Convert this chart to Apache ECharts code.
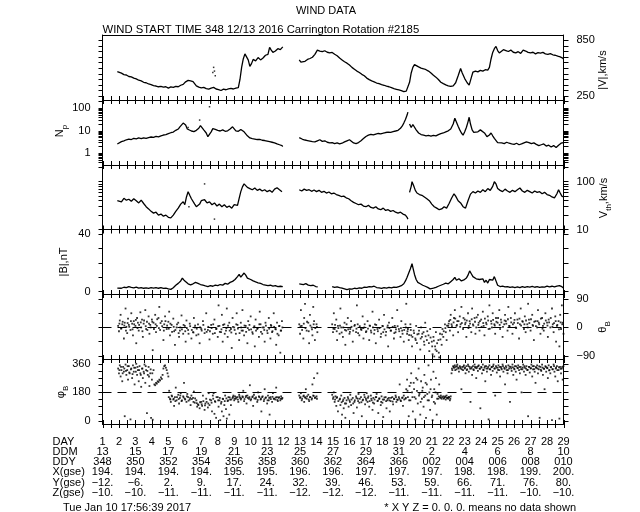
<!DOCTYPE html>
<html><head><meta charset="utf-8">
<script src="https://cdn.jsdelivr.net/npm/echarts@6/dist/echarts.min.js"></script>
<style>html,body{margin:0;padding:0;background:#fff}#c{width:640px;height:512px}</style>
</head><body><div id="c"></div>
<script>
// ---------- data (day of rotation, value) ----------
const V_DATA = [[1.9,515],[2.0,505],[2.15,498],[2.3,482],[2.45,478],[2.6,462],[2.75,458],[2.9,445],[3.05,436],[3.2,422],[3.35,415],[3.5,400],[3.65,395],[3.8,382],[3.95,375],[4.1,364],[4.25,360],[4.4,352],[4.55,356],[4.7,348],[4.85,352],[5.0,338],[5.15,350],[5.3,346],[5.45,356],[5.6,352],[5.75,368],[5.9,378],[6.05,405],[6.2,420],[6.35,416],[6.5,408],[6.6,395],[6.7,362],[6.85,348],[7.0,340],[7.15,345],[7.3,332],[7.45,326],[7.6,338],[7.75,345],[7.9,328],[8.05,322],[8.2,312],[8.35,326],[8.5,320],[8.65,330],[8.8,334],[8.95,328],[9.1,338],[9.25,342],[9.35,430],[9.45,560],[9.55,650],[9.65,705],[9.75,690],[9.85,640],[9.95,570],[10.05,600],[10.15,645],[10.3,630],[10.45,665],[10.6,640],[10.75,660],[10.9,690],[11.05,700],[11.15,775],[11.25,745],[11.35,720],[11.5,735],[11.65,760],[11.8,750],[11.95,780],[12.4,'-'],
[12.95,640],[13.05,615],[13.15,600],[13.3,625],[13.45,645],[13.6,655],[13.75,668],[13.9,700],[14.05,745],[14.2,735],[14.35,728],[14.5,738],[14.65,722],[14.8,715],[14.95,720],[15.1,700],[15.25,685],[15.4,660],[15.55,640],[15.7,620],[15.85,605],[16.0,585],[16.15,560],[16.3,540],[16.45,520],[16.6,505],[16.75,485],[16.9,470],[17.05,445],[17.2,428],[17.35,415],[17.5,405],[17.65,392],[17.8,385],[17.95,375],[18.1,368],[18.25,358],[18.4,352],[18.55,342],[18.7,332],[18.85,325],[19.0,318],[19.15,310],[19.3,300],[19.45,305],[19.55,312],[19.65,400],[19.75,500],[19.85,560],[19.95,590],[20.05,575],[20.2,565],[20.35,552],[20.5,545],[20.65,535],[20.8,520],[20.95,500],[21.1,475],[21.25,455],[21.4,430],[21.55,400],[21.7,385],[21.85,372],[22.0,362],[22.15,355],[22.3,362],[22.45,395],[22.6,470],[22.75,548],[22.85,500],[23.0,440],[23.15,395],[23.27,370],[23.4,450],[23.5,510],[23.65,520],[23.8,512],[23.95,528],[24.1,520],[24.25,535],[24.4,530],[24.5,560],[24.6,650],[24.7,720],[24.8,760],[24.9,785],[25.0,740],[25.1,715],[25.2,735],[25.35,750],[25.5,740],[25.65,730],[25.8,745],[25.95,722],[26.1,715],[26.25,728],[26.4,710],[26.55,745],[26.7,735],[26.85,720],[27.0,715],[27.15,722],[27.3,705],[27.45,718],[27.6,712],[27.75,720],[27.9,705],[28.05,700],[28.2,708],[28.35,695],[28.5,690],[28.65,680],[28.8,672],[28.95,660],[29.0,650]];
const V_DOTS = [[7.7,505],[7.75,560],[7.8,520],[7.85,470]];

const NP_DATA = [[1.9,2.6],[2.0,2.9],[2.15,3.3],[2.3,3.6],[2.45,4.0],[2.6,4.3],[2.75,4.1],[2.9,4.6],[3.05,4.4],[3.2,4.8],[3.35,4.5],[3.5,4.9],[3.65,4.6],[3.8,5.0],[3.95,5.3],[4.1,5.1],[4.25,5.6],[4.4,5.4],[4.55,6.0],[4.7,6.5],[4.85,6.8],[5.0,7.5],[5.15,8.2],[5.3,8.8],[5.45,10.5],[5.6,12],[5.7,15],[5.8,18],[5.9,22],[5.95,26],[6.05,18],[6.15,12],[6.25,10.5],[6.4,9.8],[6.55,9.2],[6.7,10.5],[6.85,13],[6.95,17],[7.05,14],[7.15,11],[7.3,8],[7.4,5.5],[7.5,5.0],[7.6,9],[7.7,12.5],[7.85,11.5],[8.0,10.5],[8.15,9.8],[8.3,11],[8.45,9.5],[8.6,10],[8.75,12],[8.9,15],[9.0,13],[9.1,10],[9.25,9.5],[9.4,11.5],[9.5,12],[9.6,9],[9.7,7.5],[9.8,6],[9.95,4.8],[10.1,4.5],[10.25,4.3],[10.4,4.1],[10.55,4.2],[10.7,3.8],[10.85,3.7],[11.0,3.5],[11.15,3.3],[11.3,3.1],[11.45,2.9],[11.6,2.6],[11.75,2.4],[11.9,2.2],[11.95,2.0],[12.4,'-'],
[12.95,5.0],[13.05,4.7],[13.15,4.2],[13.3,3.9],[13.45,3.7],[13.6,3.5],[13.75,3.3],[13.9,3.2],[14.05,3.6],[14.2,4.0],[14.35,3.4],[14.5,3.6],[14.65,3.1],[14.8,2.9],[14.95,3.0],[15.1,2.7],[15.25,2.9],[15.4,2.6],[15.55,2.8],[15.7,3.2],[15.85,3.6],[16.0,4.0],[16.1,3.3],[16.25,2.9],[16.4,2.7],[16.55,3.0],[16.7,3.6],[16.85,4.5],[17.0,5.6],[17.15,6.4],[17.3,7.0],[17.45,6.6],[17.6,7.2],[17.75,7.6],[17.9,7.3],[18.05,7.8],[18.2,8.4],[18.35,8.8],[18.5,8.5],[18.65,9.2],[18.8,9.8],[18.95,10.5],[19.1,13],[19.2,16],[19.3,22],[19.4,32],[19.5,50],[19.55,68],[19.6,'-'],[19.65,20],[19.75,14],[19.85,19],[19.95,16],[20.05,11],[20.2,8],[20.35,6.8],[20.5,6.4],[20.65,6.0],[20.8,6.2],[20.95,5.8],[21.1,6.3],[21.25,6.0],[21.4,6.8],[21.55,7.5],[21.7,8.0],[21.85,9.0],[22.0,10],[22.15,12],[22.3,20],[22.4,36],[22.5,24],[22.6,16],[22.7,11],[22.8,8],[22.9,6.4],[23.0,9],[23.1,14],[23.2,25],[23.27,40],[23.35,20],[23.45,11],[23.55,8.5],[23.65,7.5],[23.8,9],[23.95,11],[24.05,9.5],[24.2,8],[24.35,5.5],[24.5,6.5],[24.6,8],[24.7,6],[24.8,4.6],[24.9,3.8],[25.0,3.0],[25.1,2.6],[25.25,2.9],[25.4,2.7],[25.55,3.1],[25.7,2.8],[25.85,2.6],[26.0,2.5],[26.15,2.8],[26.3,2.4],[26.45,2.6],[26.6,2.9],[26.75,3.2],[26.9,3.0],[27.05,2.7],[27.2,2.9],[27.35,2.5],[27.5,2.2],[27.65,2.4],[27.8,2.6],[27.95,2.1],[28.1,2.3],[28.25,1.9],[28.4,2.2],[28.55,1.8],[28.7,2.3],[28.85,2.8],[29.0,3.0]];
const NP_DOTS = [[6.2,14],[6.9,30],[7.5,117]];

const VTH_DATA = [[1.9,40],[2.0,44],[2.15,38],[2.3,45],[2.45,41],[2.6,43],[2.75,39],[2.9,44],[3.05,40],[3.2,36],[3.35,41],[3.5,35],[3.65,30],[3.8,27],[3.95,24],[4.1,22],[4.25,23],[4.4,20],[4.55,21],[4.7,19],[4.85,20],[5.0,18],[5.15,17.5],[5.3,20],[5.45,24],[5.6,28],[5.75,34],[5.9,38],[6.0,33],[6.1,48],[6.2,62],[6.3,52],[6.4,44],[6.5,40],[6.6,34],[6.7,30],[6.8,28],[6.9,34],[7.0,40],[7.1,37],[7.2,42],[7.35,36],[7.5,38],[7.65,33],[7.8,36],[7.95,31],[8.1,34],[8.25,30],[8.4,33],[8.55,29],[8.7,31],[8.85,28],[9.0,33],[9.1,36],[9.2,32],[9.3,45],[9.4,62],[9.5,78],[9.6,90],[9.7,85],[9.8,76],[9.95,72],[10.1,68],[10.25,74],[10.4,66],[10.55,70],[10.7,64],[10.85,68],[11.0,62],[11.15,66],[11.3,60],[11.45,70],[11.6,75],[11.75,68],[11.9,62],[12.4,'-'],
[12.95,68],[13.1,64],[13.25,70],[13.4,66],[13.55,68],[13.7,63],[13.85,67],[14.0,62],[14.15,66],[14.3,60],[14.45,63],[14.6,58],[14.75,61],[14.9,56],[15.05,58],[15.2,54],[15.35,52],[15.5,49],[15.65,50],[15.8,46],[15.95,44],[16.1,40],[16.25,37],[16.4,35],[16.55,33],[16.7,34],[16.85,31],[17.0,30],[17.15,32],[17.3,29],[17.45,28],[17.6,30],[17.75,27],[17.9,26],[18.05,28],[18.2,25],[18.35,26],[18.5,24],[18.65,25],[18.8,23],[18.95,22],[19.1,23],[19.25,21],[19.4,20],[19.5,18],[19.55,16.5],[19.6,'-'],[19.65,60],[19.75,80],[19.8,100],[19.9,82],[20.0,66],[20.1,58],[20.25,54],[20.4,52],[20.55,48],[20.7,44],[20.85,40],[21.0,34],[21.15,30],[21.3,28],[21.45,26],[21.6,27],[21.75,30],[21.9,28],[22.05,35],[22.2,45],[22.35,56],[22.45,50],[22.6,40],[22.75,36],[22.9,30],[23.05,28],[23.2,40],[23.35,55],[23.5,62],[23.65,58],[23.8,64],[23.95,60],[24.1,68],[24.25,62],[24.4,72],[24.55,66],[24.7,80],[24.8,100],[24.9,90],[25.0,72],[25.15,66],[25.3,62],[25.45,70],[25.6,64],[25.75,60],[25.9,66],[26.05,62],[26.2,68],[26.35,74],[26.5,64],[26.65,60],[26.8,66],[26.95,62],[27.1,58],[27.25,64],[27.4,60],[27.55,62],[27.7,56],[27.85,60],[28.0,54],[28.15,52],[28.3,48],[28.45,46],[28.6,56],[28.7,68],[28.8,58],[28.9,50],[29.0,48]];
const VTH_DOTS = [[7.2,90],[7.8,16.5],[6.25,30]];

const B_DATA = [[1.9,2.5],[2.0,2.8],[2.15,2.4],[2.3,3.1],[2.45,2.8],[2.6,3.5],[2.75,3.0],[2.9,2.6],[3.05,3.2],[3.2,2.5],[3.35,2.9],[3.5,2.4],[3.65,2.7],[3.8,2.3],[3.95,2.8],[4.1,2.5],[4.25,2.9],[4.4,2.4],[4.55,2.8],[4.7,2.3],[4.85,2.5],[5.0,2.0],[5.15,1.6],[5.3,2.8],[5.45,4.5],[5.6,5.8],[5.75,7.5],[5.85,9.5],[5.95,8.0],[6.05,6.8],[6.2,5.5],[6.35,4.8],[6.5,5.5],[6.65,6.5],[6.8,5.8],[6.95,5.0],[7.1,4.5],[7.25,4.0],[7.4,3.6],[7.55,4.2],[7.7,3.8],[7.85,4.6],[8.0,4.2],[8.15,5.0],[8.3,4.6],[8.45,5.8],[8.6,5.2],[8.75,6.5],[8.9,7.2],[9.05,8.5],[9.2,10.5],[9.3,12],[9.4,10.2],[9.5,11.5],[9.6,13],[9.7,11.5],[9.8,9.5],[9.9,10.8],[10.0,8.5],[10.15,7.5],[10.3,6.8],[10.45,6.2],[10.6,5.8],[10.75,5.0],[10.9,4.6],[11.05,4.2],[11.2,4.5],[11.35,3.9],[11.5,4.2],[11.65,3.6],[11.8,3.8],[11.95,3.5],[12.4,'-'],
[12.95,5.5],[13.05,6.2],[13.2,5.0],[13.35,5.6],[13.5,4.6],[13.65,4.2],[13.8,4.5],[13.95,3.6],[14.07,3.4],[14.5,'-'],
[14.95,3.5],[15.1,3.0],[15.25,3.4],[15.4,2.8],[15.55,2.5],[15.7,2.0],[15.85,1.5],[16.0,2.0],[16.15,1.8],[16.3,2.4],[16.45,2.1],[16.6,2.6],[16.75,2.4],[16.9,3.2],[17.05,3.0],[17.2,3.6],[17.35,3.3],[17.5,3.8],[17.65,2.9],[17.8,2.6],[17.95,2.3],[18.1,2.8],[18.25,2.5],[18.4,3.0],[18.55,2.6],[18.7,3.2],[18.85,3.0],[19.0,3.6],[19.15,4.2],[19.3,5.5],[19.4,7.5],[19.5,10],[19.6,13],[19.7,16],[19.8,19.5],[19.85,17],[19.95,12],[20.05,8.5],[20.15,6.5],[20.3,5.5],[20.45,4.5],[20.6,3.8],[20.75,3.0],[20.9,2.0],[21.0,1.2],[21.1,2.5],[21.25,3.0],[21.4,3.8],[21.55,4.5],[21.7,5.2],[21.85,6.0],[22.0,5.5],[22.15,7.0],[22.3,8.5],[22.4,10.0],[22.5,8.0],[22.65,9.0],[22.8,7.5],[22.95,8.2],[23.1,9.5],[23.2,11.5],[23.3,14.5],[23.4,12.5],[23.5,10.5],[23.6,11.5],[23.7,9.0],[23.8,10.2],[23.9,8.5],[24.0,7.5],[24.1,9.0],[24.2,6.5],[24.3,8.0],[24.4,6.0],[24.5,8.5],[24.6,9.5],[24.7,8.0],[24.8,10.5],[24.9,9.5],[25.0,4.5],[25.15,3.6],[25.3,3.9],[25.45,3.3],[25.6,3.6],[25.75,3.0],[25.9,3.4],[26.05,2.9],[26.2,3.3],[26.35,2.8],[26.5,3.5],[26.65,3.0],[26.8,3.6],[26.95,3.2],[27.1,3.7],[27.25,3.1],[27.4,3.5],[27.55,3.0],[27.7,3.4],[27.85,3.2],[28.0,3.9],[28.15,3.4],[28.3,3.8],[28.45,3.3],[28.6,3.9],[28.75,4.2],[28.9,3.5],[29.0,2.5]];

const THETA_DATA = [[1.95,5],[2.0,-12],[2.05,22],[2.1,40],[2.15,-3],[2.2,10],[2.3,-35],[2.35,15],[2.4,60],[2.45,2],[2.5,-18],[2.55,28],[2.6,8],[2.7,-8],[2.75,45],[2.8,12],[2.85,-25],[2.9,20],[3.0,5],[3.05,-50],[3.1,30],[3.15,15],[3.2,-10],[3.3,48],[3.35,0],[3.4,25],[3.45,-30],[3.5,12],[3.6,55],[3.65,-5],[3.7,18],[3.8,35],[3.85,-20],[3.9,8],[4.0,25],[4.05,-72],[4.1,15],[4.2,40],[4.25,-15],[4.3,5],[4.4,30],[4.45,65],[4.5,-8],[4.6,20],[4.7,-40],[4.75,10],[4.8,35],[4.9,-5],[5.0,18],[5.05,50],[5.1,-25],[5.2,8],[5.3,28],[5.35,-12],[5.4,-55],[5.5,0],[5.6,15],[5.65,-30],[5.7,-10],[5.8,38],[5.9,-20],[6.0,5],[6.05,-45],[6.1,22],[6.2,-8],[6.3,12],[6.4,-35],[6.5,-15],[6.55,30],[6.6,0],[6.7,-25],[6.8,10],[6.9,-50],[7.0,-5],[7.1,20],[7.2,-18],[7.3,45],[7.4,-8],[7.5,-38],[7.6,8],[7.7,-20],[7.8,25],[7.9,-5],[8.0,-30],[8.05,70],[8.1,5],[8.2,-15],[8.25,40],[8.3,-45],[8.4,10],[8.5,-10],[8.55,60],[8.6,-30],[8.7,15],[8.8,-5],[8.85,-65],[8.9,30],[9.0,0],[9.1,-20],[9.15,45],[9.2,8],[9.3,-40],[9.4,15],[9.45,-10],[9.5,55],[9.6,-25],[9.7,5],[9.8,-50],[9.85,20],[9.9,-8],[10.0,35],[10.1,-15],[10.2,0],[10.25,-60],[10.3,25],[10.4,-5],[10.5,-30],[10.55,50],[10.6,10],[10.7,-20],[10.8,0],[10.85,-45],[10.9,15],[11.0,-10],[11.1,30],[11.2,-35],[11.25,5],[11.3,-15],[11.4,45],[11.5,-5],[11.55,-55],[11.6,15],[11.7,-25],[11.75,5],[11.8,-80],[11.85,-10],[11.9,20],
[12.95,10],[13.0,-20],[13.05,55],[13.1,5],[13.2,-35],[13.25,30],[13.3,75],[13.4,-10],[13.5,15],[13.55,-50],[13.6,40],[13.7,0],[13.75,-25],[13.8,65],[13.85,20],[13.9,-40],[14.0,10],[14.05,-15],
[14.95,10],[15.0,-15],[15.05,45],[15.1,-5],[15.2,25],[15.25,-40],[15.3,5],[15.4,-20],[15.45,60],[15.5,0],[15.6,-30],[15.7,15],[15.75,-55],[15.8,-10],[15.9,30],[16.0,-20],[16.05,-5],[16.1,20],[16.2,-45],[16.3,5],[16.4,-15],[16.45,70],[16.5,10],[16.6,-25],[16.7,-5],[16.8,35],[16.85,-35],[16.9,0],[17.0,-15],[17.1,20],[17.2,-40],[17.25,5],[17.3,-10],[17.4,50],[17.5,-20],[17.55,10],[17.6,-50],[17.7,-5],[17.8,25],[17.9,-30],[18.0,5],[18.05,-15],[18.1,40],[18.2,-25],[18.3,0],[18.35,-60],[18.4,15],[18.5,-10],[18.6,30],[18.7,-35],[18.75,5],[18.8,-15],[18.9,55],[19.0,-5],[19.1,-30],[19.15,20],[19.2,-10],[19.3,-45],[19.4,10],[19.45,75],
[19.5,-20],[19.55,-5],[19.6,-40],[19.7,10],[19.75,-25],[19.8,-60],[19.9,-10],[20.0,-35],[20.05,5],[20.1,-50],[20.2,-20],[20.3,-70],[20.35,0],[20.4,-30],[20.5,-15],[20.55,-55],[20.6,15],[20.7,-40],[20.8,-25],[20.85,-75],[20.9,-5],[21.0,-45],[21.05,-85],[21.1,-30],[21.15,-92],[21.2,-60],[21.25,-15],[21.3,-75],[21.4,-40],[21.45,-95],[21.5,-20],[21.6,-55],[21.65,-5],[21.7,-30],[21.8,10],[21.85,-15],[21.9,-40],[22.0,5],
[22.05,20],[22.1,-10],[22.15,40],[22.2,10],[22.3,-25],[22.35,30],[22.4,55],[22.5,5],[22.55,20],[22.6,-15],[22.7,35],[22.75,10],[22.8,65],[22.9,-5],[23.0,25],[23.05,15],[23.1,-30],[23.2,45],[23.25,5],[23.3,20],[23.4,-15],[23.45,60],[23.5,10],[23.6,30],[23.65,-20],[23.7,0],[23.8,40],[23.85,15],[23.9,-10],[24.0,25],[24.1,50],[24.15,5],[24.2,-25],[24.3,15],[24.4,35],[24.45,-5],[24.5,70],[24.6,20],[24.65,0],[24.7,45],[24.8,10],[24.85,-20],[24.9,30],[25.0,15],[25.1,55],[25.15,-5],[25.2,25],[25.3,-30],[25.4,10],[25.45,40],[25.5,20],[25.6,-10],[25.65,65],[25.7,5],[25.8,30],[25.9,-20],[26.0,15],[26.05,45],[26.1,0],[26.2,25],[26.3,-35],[26.35,10],[26.4,60],[26.5,20],[26.6,-5],[26.65,35],[26.7,-15],[26.8,10],[26.85,75],[26.9,25],[27.0,-10],[27.1,40],[27.15,5],[27.2,-40],[27.3,20],[27.4,0],[27.45,55],[27.5,15],[27.6,-20],[27.7,30],[27.75,5],[27.8,-10],[27.9,45],[28.0,15],[28.05,-30],[28.1,25],[28.2,0],[28.3,60],[28.35,10],[28.4,-15],[28.5,35],[28.55,-45],[28.6,5],[28.7,20],[28.75,-60],[28.8,40],[28.85,-5],[28.9,70],[28.95,15],[29.0,-20]];

const THETA_CORE = [[2.025,12],[2.125,-4],[2.225,18],[2.325,6],[2.425,-10],[2.525,14],[2.625,2],[2.725,20],[2.825,-6],[2.925,10],[3.025,24],[3.125,-2],[3.225,8],[3.325,16],[3.425,-12],[3.525,22],[3.625,4],[3.725,-8],[3.825,12],[3.925,0],[4.025,18],[4.125,-5],[4.225,10],[4.325,26],[4.425,-2],[4.525,14],[4.625,4],[4.725,-10],[4.825,20],[4.925,6],[5.025,-4],[5.125,12],[5.225,-14],[5.325,2],[5.425,-8],[5.525,10],[5.625,-18],[5.725,0],[5.825,-6],[5.925,8],[6.025,-12],[6.125,-2],[6.225,-20],[6.325,4],[6.425,-8],[6.525,-16],[6.625,6],[6.725,-4],[6.825,-22],[6.925,0],[7.025,-10],[7.125,8],[7.225,-6],[7.325,-14],[7.425,2],[7.525,-12],[7.625,-2],[7.725,10],[7.825,-18],[7.925,-4],[8.025,4],[8.125,-14],[8.225,-6],[8.325,8],[8.425,-20],[8.525,-2],[8.625,6],[8.725,-10],[8.825,-16],[8.925,2],[9.025,-8],[9.125,10],[9.225,-4],[9.325,-18],[9.425,0],[9.525,-10],[9.625,6],[9.725,-14],[9.825,-2],[9.925,8],[10.025,-6],[10.125,-20],[10.225,4],[10.325,-10],[10.425,-2],[10.525,10],[10.625,-14],[10.725,0],[10.825,-8],[10.925,6],[11.025,-18],[11.125,-4],[11.225,8],[11.325,-12],[11.425,2],[11.525,-6],[11.625,-20],[11.725,4],[11.825,-10],[11.925,0],
[13.025,4],[13.125,-8],[13.225,12],[13.325,-2],[13.425,18],[13.525,-12],[13.625,6],[13.725,-6],[13.825,10],[13.925,-2],[14.025,2],
[15.025,-4],[15.125,8],[15.225,-12],[15.325,-2],[15.425,6],[15.525,-16],[15.625,0],[15.725,-8],[15.825,10],[15.925,-6],[16.025,-14],[16.125,2],[16.225,-10],[16.325,8],[16.425,-4],[16.525,-18],[16.625,4],[16.725,-8],[16.825,-2],[16.925,10],[17.025,-12],[17.125,-4],[17.225,6],[17.325,-16],[17.425,0],[17.525,-8],[17.625,8],[17.725,-12],[17.825,-2],[17.925,-20],[18.025,4],[18.125,-6],[18.225,-14],[18.325,6],[18.425,-2],[18.525,-10],[18.625,2],[18.725,-18],[18.825,-6],[18.925,4],[19.025,-12],[19.125,-2],[19.225,-20],[19.325,-8],[19.425,0],
[19.525,-12],[19.625,-24],[19.725,-8],[19.825,-30],[19.925,-18],[20.025,-40],[20.125,-22],[20.225,-10],[20.325,-35],[20.425,-20],[20.525,-45],[20.625,-28],[20.725,-12],[20.825,-50],[20.925,-32],[21.025,-60],[21.125,-42],[21.225,-70],[21.325,-50],[21.425,-80],[21.525,-38],[21.625,-22],[21.725,-12],[21.825,-2],[21.925,6],
[22.025,12],[22.125,24],[22.225,4],[22.325,16],[22.425,28],[22.525,8],[22.625,20],[22.725,2],[22.825,14],[22.925,30],[23.025,10],[23.125,22],[23.225,-2],[23.325,12],[23.425,26],[23.525,6],[23.625,18],[23.725,32],[23.825,8],[23.925,20],[24.025,2],[24.125,14],[24.225,28],[24.325,10],[24.425,22],[24.525,-4],[24.625,12],[24.725,24],[24.825,6],[24.925,18],[25.025,30],[25.125,8],[25.225,16],[25.325,2],[25.425,22],[25.525,12],[25.625,26],[25.725,4],[25.825,16],[25.925,10],[26.025,24],[26.125,-2],[26.225,14],[26.325,28],[26.425,6],[26.525,18],[26.625,10],[26.725,22],[26.825,0],[26.925,14],[27.025,26],[27.125,8],[27.225,18],[27.325,4],[27.425,20],[27.525,10],[27.625,28],[27.725,-4],[27.825,12],[27.925,22],[28.025,6],[28.125,16],[28.225,30],[28.325,2],[28.425,14],[28.525,20],[28.625,8],[28.725,-6],[28.825,16],[28.925,10]];

const PHI_DATA = [[1.95,330],[2.0,300],[2.05,350],[2.1,280],[2.15,320],[2.2,250],[2.25,340],[2.3,310],[2.35,30],[2.4,355],[2.45,290],[2.5,320],[2.55,260],[2.6,345],[2.65,300],[2.7,10],[2.75,330],[2.8,270],[2.85,350],[2.9,310],[2.95,230],[3.0,335],[3.05,360],[3.1,290],[3.15,320],[3.2,250],[3.25,345],[3.3,300],[3.35,215],[3.4,330],[3.45,270],[3.5,310],[3.55,355],[3.6,240],[3.65,320],[3.7,50],[3.75,290],[3.8,340],[3.85,220],[3.9,300],[3.95,20],[4.0,260],[4.05,8],[4.1,320],
[4.15,230],[4.2,225],[4.25,240],[4.3,235],[4.35,250],[4.4,245],[4.45,260],[4.5,255],[4.55,275],[4.6,265],[4.65,290],[4.7,330],[4.75,345],[4.8,350],[4.85,335],[4.9,320],[4.95,300],[5.0,280],
[5.05,190],[5.1,140],[5.15,120],[5.2,160],[5.3,135],[5.35,95],[5.4,150],[5.45,210],[5.5,130],[5.6,165],[5.65,110],[5.7,145],[5.75,175],[5.8,125],[5.9,155],[5.95,240],[6.0,140],[6.1,120],[6.15,170],[6.2,150],[6.3,135],[6.35,100],[6.4,160],[6.5,145],[6.55,185],[6.6,115],[6.7,130],[6.75,90],[6.8,105],[6.9,80],[7.0,120],[7.05,95],[7.1,160],[7.2,70],[7.25,110],[7.3,140],[7.4,85],[7.45,175],[7.5,100],[7.6,130],[7.65,60],[7.7,160],[7.75,175],[7.8,45],[7.85,120],[7.9,20],[8.0,150],[8.05,90],[8.1,130],[8.15,5],[8.2,110],[8.25,60],[8.3,140],[8.35,30],[8.4,100],[8.45,160],[8.5,75],[8.55,15],[8.6,125],[8.65,150],[8.7,40],[8.75,135],[8.8,100],[8.9,145],[8.95,160],[9.0,130],[9.05,155],[9.1,140],[9.2,150],[9.25,120],[9.3,165],[9.35,145],[9.4,135],[9.5,155],[9.55,190],[9.6,125],[9.7,150],[9.75,110],[9.8,160],[9.9,140],[9.95,225],[10.0,130],[10.1,150],[10.15,95],[10.2,165],[10.3,140],[10.4,120],[10.45,180],[10.5,155],[10.6,135],[10.65,60],[10.7,150],[10.8,125],[10.85,200],[10.9,145],[11.0,110],[11.05,160],[11.1,130],[11.15,40],[11.2,150],[11.3,120],[11.35,175],[11.4,140],[11.5,135],[11.55,210],[11.6,150],[11.65,125],[11.7,145],[11.8,130],[11.85,155],[11.9,140],
[12.95,160],[13.0,145],[13.05,175],[13.1,130],[13.2,155],[13.25,120],[13.3,150],[13.35,200],[13.4,140],[13.5,165],[13.55,125],[13.6,150],[13.7,135],[13.75,230],[13.8,160],[13.85,270],[13.9,145],[14.0,155],[14.05,300],
[14.95,165],[15.0,140],[15.05,180],[15.1,120],[15.15,155],[15.2,95],[15.25,150],[15.3,60],[15.4,135],[15.45,100],[15.5,160],[15.55,40],[15.6,125],[15.65,80],[15.7,145],[15.75,20],[15.8,110],[15.9,150],[15.95,90],[16.0,130],[16.05,165],[16.1,100],[16.2,145],[16.25,50],[16.3,120],[16.4,155],[16.45,85],[16.5,140],[16.55,170],[16.6,115],[16.7,150],[16.75,30],[16.8,130],[16.9,165],[16.95,105],[17.0,140],[17.05,175],[17.1,120],[17.15,155],[17.2,90],[17.3,160],[17.35,130],[17.4,70],[17.45,145],[17.5,110],[17.6,150],[17.65,170],[17.7,125],[17.75,50],[17.8,140],[17.9,100],[17.95,155],[18.0,115],[18.05,25],[18.1,135],[18.2,150],[18.25,80],[18.3,130],[18.4,145],[18.45,60],[18.5,125],[18.6,150],[18.65,105],[18.7,140],[18.8,160],[18.85,120],[18.9,135],[19.0,150],[19.05,230],[19.1,130],[19.2,145],[19.25,95],[19.3,160],[19.4,140],[19.45,200],
[19.5,260],[19.55,150],[19.6,30],[19.65,220],[19.7,130],[19.75,300],[19.8,180],[19.85,60],[19.9,240],[19.95,150],[20.0,10],[20.05,270],[20.1,190],[20.15,110],[20.2,330],[20.25,170],[20.3,40],[20.35,250],[20.4,140],[20.45,210],[20.5,90],[20.55,290],[20.6,160],[20.65,20],[20.7,230],[20.75,130],[20.8,350],[20.85,180],[20.9,70],[20.95,260],[21.0,150],[21.05,5],[21.1,310],[21.15,200],[21.2,110],[21.25,270],[21.3,40],[21.35,170],[21.4,140],[21.45,230],[21.5,150],[21.55,160],[21.6,140],[21.7,155],[21.75,145],[21.8,150],[21.85,135],[21.9,160],[21.95,145],[22.0,140],[22.05,150],[22.1,130],[22.15,155],
[22.2,300],[22.25,320],[22.3,345],[22.35,335],[22.4,350],[22.45,340],[22.5,325],[22.55,355],[22.6,335],[22.65,310],[22.7,345],[22.75,330],[22.8,200],[22.85,340],[22.9,320],[22.95,350],[23.0,330],[23.05,300],[23.1,345],[23.15,325],[23.2,355],[23.25,310],[23.3,340],[23.35,120],[23.4,330],[23.45,290],[23.5,345],[23.55,320],[23.6,355],[23.65,335],[23.7,270],[23.75,340],[23.8,315],[23.85,350],[23.9,330],[23.95,80],[24.0,340],[24.05,300],[24.1,355],[24.15,320],[24.2,335],[24.25,250],[24.3,345],[24.35,310],[24.4,330],[24.45,10],[24.5,350],[24.55,325],[24.6,290],[24.65,340],[24.7,315],[24.75,355],[24.8,330],[24.85,160],[24.9,345],[24.95,305],[25.0,335],[25.05,350],[25.1,320],[25.15,280],[25.2,340],[25.25,325],[25.3,355],[25.35,310],[25.4,335],[25.45,230],[25.5,345],[25.55,320],[25.6,300],[25.65,350],[25.7,330],[25.75,120],[25.8,340],[25.85,315],[25.9,355],[25.95,290],[26.0,330],[26.05,345],[26.1,310],[26.15,260],[26.2,335],[26.25,350],[26.3,320],[26.35,300],[26.4,340],[26.45,180],[26.5,325],[26.55,355],[26.6,310],[26.65,335],[26.7,290],[26.75,345],[26.8,320],[26.85,30],[26.9,340],[26.95,305],[27.0,330],[27.05,355],[27.1,280],[27.15,325],[27.2,345],[27.25,310],[27.3,240],[27.35,335],[27.4,350],[27.45,300],[27.5,325],[27.55,20],[27.6,340],[27.65,315],[27.7,355],[27.75,290],[27.8,330],[27.85,200],[27.9,345],[27.95,310],[28.0,335],[28.05,270],[28.1,350],[28.15,320],[28.2,300],[28.25,340],[28.3,5],[28.35,325],[28.4,355],[28.45,310],[28.5,280],[28.55,335],[28.6,345],[28.65,250],[28.7,320],[28.75,15],[28.8,340],[28.85,300],[28.9,330],[28.95,260],[29.0,345]];

const PHI_CORE = [[2.025,320],[2.125,340],[2.225,300],[2.325,330],[2.425,315],[2.525,345],[2.625,305],[2.725,325],[2.825,295],[2.925,335],[3.025,310],[3.125,340],[3.225,320],[3.325,290],[3.425,330],[3.525,300],[3.625,345],[3.725,315],[3.825,280],[3.925,325],[4.025,300],
[5.025,150],[5.125,135],[5.225,155],[5.325,140],[5.425,125],[5.525,150],[5.625,138],[5.725,160],[5.825,130],[5.925,148],[6.025,135],[6.125,155],[6.225,128],[6.325,145],[6.425,138],[6.525,120],[6.625,142],[6.725,112],[6.825,100],[6.925,118],[7.025,105],[7.125,125],[7.225,98],[7.325,120],[7.425,110],[7.525,135],[7.625,115],[7.725,140],[7.825,125],[7.925,150],[8.025,130],[8.125,145],[8.225,120],[8.325,138],[8.425,125],[8.525,142],[8.625,130],[8.725,148],[8.825,135],[8.925,152],[9.025,140],[9.125,148],[9.225,135],[9.325,155],[9.425,142],[9.525,150],[9.625,138],[9.725,158],[9.825,145],[9.925,150],[10.025,138],[10.125,155],[10.225,142],[10.325,148],[10.425,132],[10.525,150],[10.625,140],[10.725,155],[10.825,136],[10.925,148],[11.025,130],[11.125,145],[11.225,138],[11.325,152],[11.425,140],[11.525,148],[11.625,132],[11.725,150],[11.825,140],[11.925,145],
[13.025,150],[13.125,140],[13.225,160],[13.325,145],[13.425,155],[13.525,135],[13.625,150],[13.725,142],[13.825,158],[13.925,148],[14.025,140],
[15.025,150],[15.125,135],[15.225,145],[15.325,125],[15.425,140],[15.525,118],[15.625,135],[15.725,110],[15.825,130],[15.925,140],[16.025,120],[16.125,135],[16.225,110],[16.325,130],[16.425,145],[16.525,125],[16.625,140],[16.725,118],[16.825,135],[16.925,150],[17.025,130],[17.125,145],[17.225,125],[17.325,140],[17.425,115],[17.525,135],[17.625,150],[17.725,128],[17.825,142],[17.925,120],[18.025,135],[18.125,148],[18.225,125],[18.325,140],[18.425,130],[18.525,145],[18.625,122],[18.725,138],[18.825,150],[18.925,132],[19.025,140],[19.125,125],[19.225,148],[19.325,135],[19.425,145],
[19.525,190],[19.625,130],[19.725,240],[19.825,150],[19.925,200],[20.025,140],[20.125,260],[20.225,160],[20.325,120],[20.425,190],[20.525,150],[20.625,240],[20.725,170],[20.825,130],[20.925,200],[21.025,160],[21.125,120],[21.225,180],[21.325,140],[21.425,155],[21.525,145],[21.625,150],[21.725,140],[21.825,155],[21.925,145],[22.025,150],[22.125,140],
[22.225,330],[22.325,340],[22.425,320],[22.525,345],[22.625,330],[22.725,338],[22.825,325],[22.925,342],[23.025,335],[23.125,320],[23.225,345],[23.325,330],[23.425,338],[23.525,325],[23.625,340],[23.725,332],[23.825,345],[23.925,328],[24.025,336],[24.125,322],[24.225,344],[24.325,330],[24.425,340],[24.525,326],[24.625,338],[24.725,345],[24.825,330],[24.925,336],[25.025,322],[25.125,340],[25.225,332],[25.325,345],[25.425,328],[25.525,336],[25.625,320],[25.725,342],[25.825,330],[25.925,338],[26.025,325],[26.125,344],[26.225,332],[26.325,340],[26.425,326],[26.525,336],[26.625,345],[26.725,330],[26.825,322],[26.925,340],[27.025,332],[27.125,345],[27.225,326],[27.325,338],[27.425,330],[27.525,344],[27.625,322],[27.725,336],[27.825,328],[27.925,340],[28.025,332],[28.125,318],[28.225,338],[28.325,326],[28.425,345],[28.525,330],[28.625,320],[28.725,338],[28.825,328],[28.925,340]];

// ---------- tick / table labels ----------
const X_TICKS = [1,1.5,2,2.5,3,3.5,4,4.5,5,5.5,6,6.5,7,7.5,8,8.5,9,9.5,10,10.5,11,11.5,12,12.5,13,13.5,14,14.5,15,15.5,16,16.5,17,17.5,18,18.5,19,19.5,20,20.5,21,21.5,22,22.5,23,23.5,24,24.5,25,25.5,26,26.5,27,27.5,28,28.5,29];
const DAY_LABELS = [1,2,3,4,5,6,7,8,9,10,11,12,13,14,15,16,17,18,19,20,21,22,23,24,25,26,27,28,29];
const ROW_DAYS = [1,3,5,7,9,11,13,15,17,19,21,23,25,27,29];
const DDM = ['13','15','17','19','21','23','25','27','29','31','2','4','6','8','10'];
const DDY = ['348','350','352','354','356','358','360','362','364','366','002','004','006','008','010'];
const XGSE = ['194.','194.','194.','194.','195.','195.','196.','196.','197.','197.','197.','198.','198.','199.','200.'];
const YGSE = ['\u221212.','\u22126.','2.','9.','17.','24.','32.','39.','46.','53.','59.','66.','71.','76.','80.'];
const ZGSE = ['\u221210.','\u221210.','\u221211.','\u221211.','\u221211.','\u221211.','\u221212.','\u221212.','\u221212.','\u221211.','\u221211.','\u221211.','\u221211.','\u221210.','\u221210.'];
const V_TICKS = [250,310,370,430,490,550,610,670,730,790,850];
const V_LABELS = [250,850];
const NP_TICKS = [0.3,0.4,0.5,0.6,0.7,0.8,0.9,1,2,3,4,5,6,7,8,9,10,20,30,40,50,60,70,80,90,100,200];
const NP_LABELS = [1,10,100];
const VTH_TICKS = [10,20,30,40,50,60,70,80,90,100,200];
const VTH_LABELS = [10,100];
const B_TICKS = [0,10,20,30,40];
const B_LABELS = [0,40];
const TH_TICKS = [-90,-45,0,45,90];
const TH_LABELS = [-90,0,90];
const PHI_TICKS = [0,45,90,135,180,225,270,315,360];
const PHI_LABELS = [0,180,360];

// ---------- layout ----------
const FONT = '"Liberation Sans", Arial, sans-serif';
const FS = 11;
const TOPS = [35,100,165,229.5,294,359], BOTS = [100,165,229.5,294,359,424];
const PANELS = [
  {type:'value', min:210, max:907, ticks:V_TICKS, labels:V_LABELS, side:'right'},
  {type:'log', min:0.302, max:234, ticks:NP_TICKS, labels:NP_LABELS, side:'left'},
  {type:'log', min:10, max:224, ticks:VTH_TICKS, labels:VTH_LABELS, side:'right'},
  {type:'value', min:-1.6, max:43.3, ticks:B_TICKS, labels:B_LABELS, side:'left'},
  {type:'value', min:-100, max:106, ticks:TH_TICKS, labels:TH_LABELS, side:'right'},
  {type:'value', min:-19, max:390, ticks:PHI_TICKS, labels:PHI_LABELS, side:'left'}
];
const black = {color:'#000', width:1};
const fmt = v => { const r = Math.round(v*1000)/1000; return r < 0 ? '\u2212' + Math.abs(r) : String(r); };

const grid = TOPS.map((t,i) => ({left:102.5, right:76.5, top:t, height:BOTS[i]-t}));
const xAxis = [], yAxis = [];
for (let i = 0; i < 6; i++) {
  const base = {type:'value', gridIndex:i, min:1, max:29, interval:0.5, splitLine:{show:false},
    axisLabel:{show:false}, axisTick:{show:false}, axisLine:{show:true, onZero:false, lineStyle:black}};
  xAxis.push(Object.assign({}, base, {position:'bottom'}));
  xAxis.push(Object.assign({}, base, {position:'top'}));
  const P = PANELS[i];
  ['left','right'].forEach(side => {
    yAxis.push({type:P.type, logBase:10, gridIndex:i, position:side, min:P.min, max:P.max,
      splitLine:{show:false}, axisLine:{show:true, onZero:false, lineStyle:black},
      axisTick:{show:true, inside:false, length: side==='left'?4:5, customValues:P.ticks, lineStyle:black},
      axisLabel:{show: side===P.side, customValues:P.labels, margin: side==='left'?12:13, color:'#000',
        fontFamily:FONT, fontSize:FS, formatter: fmt}});
  });
}
// table rows under the plot, drawn as extra axes
const ROWS = [
  {off:17.5, vals:DAY_LABELS, text:DAY_LABELS.map(String)},
  {off:27.8, vals:ROW_DAYS, text:DDM},
  {off:38.1, vals:ROW_DAYS, text:DDY},
  {off:48.4, vals:ROW_DAYS, text:XGSE},
  {off:58.7, vals:ROW_DAYS, text:YGSE},
  {off:69, vals:ROW_DAYS, text:ZGSE}
];
ROWS.forEach(r => {
  xAxis.push({type:'value', gridIndex:5, position:'bottom', offset:r.off, min:1, max:29,
    splitLine:{show:false}, axisLine:{show:false, onZero:false}, axisTick:{show:false},
    axisLabel:{show:true, customValues:r.vals, margin:0, verticalAlign:'middle', color:'#000',
      fontFamily:FONT, fontSize:FS, formatter: v => r.text[r.vals.indexOf(Math.round(v))]}});
});

const lineS = (data, i) => ({type:'line', xAxisIndex:2*i, yAxisIndex:2*i, data, symbol:'none',
  connectNulls:false, lineStyle:{color:'#000', width:1.3}, silent:true});
const dotS = (data, i, size) => ({type:'scatter', xAxisIndex:2*i, yAxisIndex:2*i, data, symbol:'rect',
  symbolSize:size, itemStyle:{color:'#000'}, silent:true});
const dash = y => ({silent:true, symbol:'none', label:{show:false}, lineStyle:{color:'#000', width:1, type:[9,6]},
  data:[{yAxis:y}]});

const series = [
  lineS(V_DATA,0), dotS(V_DOTS,0,1.5),
  lineS(NP_DATA,1), dotS(NP_DOTS,1,1.5),
  lineS(VTH_DATA,2), dotS(VTH_DOTS,2,1.5),
  lineS(B_DATA,3),
  Object.assign(dotS(THETA_DATA,4,1.8), {markLine:dash(0)}),
  dotS(THETA_CORE,4,1.8),
  Object.assign(dotS(PHI_DATA,5,1.8), {markLine:dash(180)}),
  dotS(PHI_CORE,5,1.8)
];

const txt = (x, y, text, extra) => Object.assign({type:'text', x, y, silent:true,
  style:{text, fill:'#000', font: FS + 'px ' + FONT, align:'left', verticalAlign:'middle'}}, extra || {});
const rot = (x, y, text, rich) => ({type:'text', x, y, rotation:Math.PI/2, silent:true,
  style:{text, fill:'#000', font: FS + 'px ' + FONT, align:'center', verticalAlign:'middle', rich}});
const subRich = {n:{fontSize:FS, fontFamily:FONT, lineHeight:13, verticalAlign:'top'},
  s:{fontSize:8, fontFamily:FONT, lineHeight:8, padding:[6,0,0,0], verticalAlign:'top'}};

const texts = [
  txt(326, 11, 'WIND DATA', {style:{text:'WIND DATA', fill:'#000', font:'11px '+FONT, align:'center', verticalAlign:'middle'}}),
  txt(102.5, 29.5, 'WIND START TIME 348 12/13 2016 Carrington Rotation #2185', {style:{text:'WIND START TIME 348 12/13 2016 Carrington Rotation #2185', fill:'#000', font:'11.3px '+FONT, align:'left', verticalAlign:'middle'}}),
  rot(603, 70, '|V|,km/s'),
  rot(61, 131, '{n|N}{s|p}', subRich),
  rot(605, 198, '{n|V}{s|th}{n|,km/s}', subRich),
  rot(64, 262, '|B|,nT'),
  rot(604, 327, '{n|\u03b8}{s|B}', subRich),
  rot(62, 392, '{n|\u03c6}{s|B}', subRich),
  txt(52.5, 441.5, 'DAY'), txt(52.5, 451.8, 'DDM'), txt(52.5, 462.1, 'DDY'),
  txt(52.5, 472.4, 'X(gse)'), txt(52.5, 482.7, 'Y(gse)'), txt(52.5, 493, 'Z(gse)'),
  txt(63, 508, 'Tue Jan 10 17:56:39 2017'),
  txt(576, 508, '* X Y Z = 0. 0. 0. means no data shown', {style:{text:'* X Y Z = 0. 0. 0. means no data shown', fill:'#000', font:FS+'px '+FONT, align:'right', verticalAlign:'middle'}})
];

const chart = echarts.init(document.getElementById('c'), null, {renderer:'canvas'});
chart.setOption({animation:false, backgroundColor:'#fff', grid, xAxis, yAxis, series, graphic:texts});

// half-day tick marks crossing every panel's lower edge, positioned through each panel's own axes
const ticks = [];
for (let i = 0; i < 6; i++) {
  const yb = chart.convertToPixel({yAxisIndex: 2*i}, PANELS[i].min);
  X_TICKS.forEach(t => {
    const xp = chart.convertToPixel({xAxisIndex: 2*i}, t);
    if (!isFinite(xp) || !isFinite(yb)) return;
    const x = Math.round(xp) + 0.5;
    ticks.push({type:'line', silent:true, z:100,
      shape:{x1:x, y1:yb - 4, x2:x, y2:yb + 4}, style:{stroke:'#000', lineWidth:1}});
  });
}
chart.setOption({graphic: texts.concat(ticks)});
</script></body></html>
